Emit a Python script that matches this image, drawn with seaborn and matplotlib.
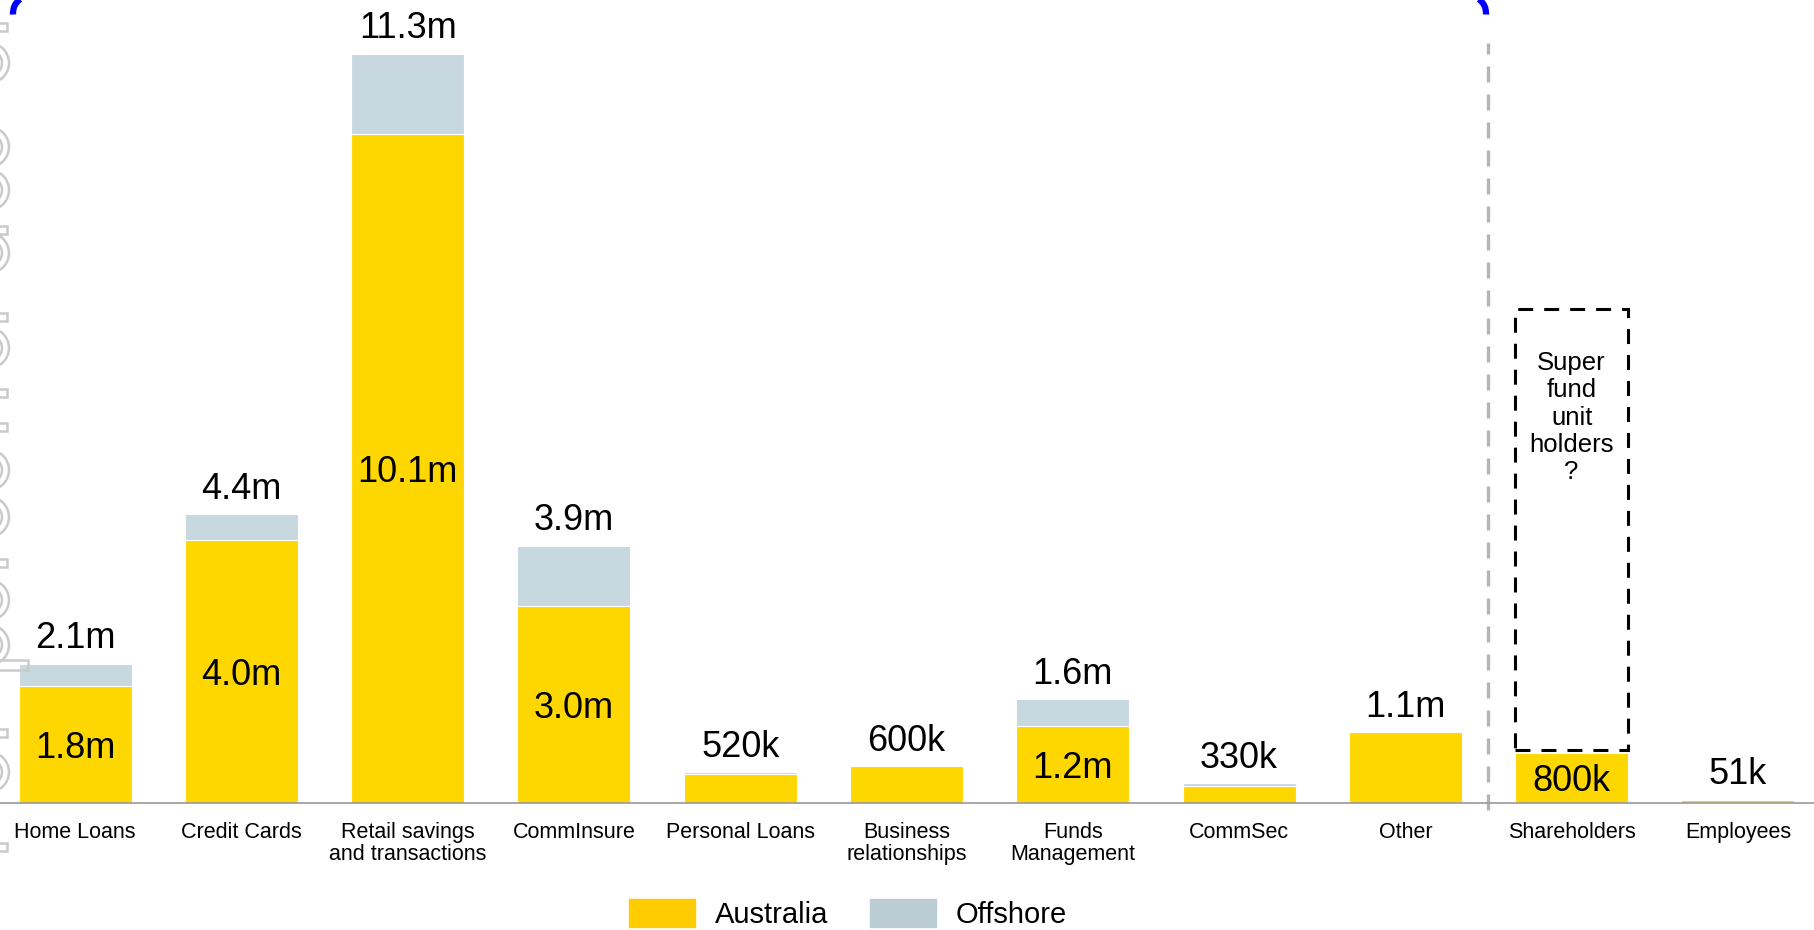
import matplotlib
matplotlib.use("Agg")
import matplotlib.pyplot as plt
import matplotlib.patches as mpatches
import seaborn as sns
import pandas as pd

# customer numbers (millions)
categories = ["Home Loans", "Credit Cards", "Retail savings\nand transactions", "CommInsure",
              "Personal Loans", "Business\nrelationships", "Funds\nManagement", "CommSec",
              "Other", "Shareholders", "Employees"]
australia = [1.76, 3.97, 10.09, 2.97, 0.43, 0.56, 1.16, 0.26, 1.07, 0.76, 0.05]
offshore = [0.34, 0.39, 1.21, 0.91, 0.04, 0.0, 0.41, 0.04, 0.0, 0.0, 0.0]
total_labels = ["2.1m", "4.4m", "11.3m", "3.9m", "520k", "600k", "1.6m", "330k", "1.1m", "", "51k"]
inner_labels = ["1.8m", "4.0m", "10.1m", "3.0m", "", "", "1.2m", "", "", "800k", ""]
legend_names = ["Australia", "Offshore"]

YELLOW = "#FFD700"
GREY = "#C8D8DF"
LEG_YELLOW = "#FFCC00"
LEG_GREY = "#BCCCD4"

df = pd.DataFrame({"category": categories, "australia": australia, "offshore": offshore})
df["total"] = df["australia"] + df["offshore"]

sns.set_style("white")
plt.rcParams["font.family"] = ["Liberation Sans", "DejaVu Sans"]
plt.rcParams["text.color"] = "black"
plt.rcParams["xtick.labelcolor"] = "black"

W, H = 1814, 930
fig = plt.figure(figsize=(W / 100, H / 100), dpi=100)
ax = fig.add_axes([-8 / W, 1 - 803 / H, 1829 / W, 803 / H])

# stacked bars: full total in grey, Australian share over it
sns.barplot(data=df, x="category", y="total", color=GREY, width=0.68, saturation=1,
            edgecolor="white", linewidth=0.8, ax=ax)
sns.barplot(data=df, x="category", y="australia", color=YELLOW, width=0.68, saturation=1,
            edgecolor="white", linewidth=0.8, ax=ax)

ax.set_xlim(-0.5, len(categories) - 0.5)
ax.set_ylim(0, 12.11)
ax.set_xlabel("")
ax.set_ylabel("")
ax.set_yticks([])
for s in ["top", "left", "right"]:
    ax.spines[s].set_visible(False)
ax.spines["bottom"].set_color("#9a9a9a")
ax.spines["bottom"].set_linewidth(1.2)

ax.set_xticks(range(len(categories)))
ax.set_xticklabels(categories, fontsize=15.5, color="black")
ax.set_xticks([i + 0.5 for i in range(len(categories) - 1)], minor=True)
ax.tick_params(axis="x", which="major", length=0, pad=13.5)
ax.tick_params(axis="x", which="minor", length=5, width=1, color="#9a9a9a", direction="out")
for lbl in ax.get_xticklabels():
    lbl.set_linespacing(1.1)

for i, row in df.iterrows():
    if total_labels[i]:
        ax.annotate(total_labels[i], (i, row["total"]), xytext=(0, 11), textcoords="offset points",
                    ha="center", va="baseline", fontsize=26)
    if inner_labels[i]:
        ax.text(i, row["australia"] / 2, inner_labels[i], ha="center", va="center_baseline",
                fontsize=26)

# divider between customers and other stakeholders
ax.plot([8.5, 8.5], [-0.1, 11.46], color="#b4b4b4", lw=2.4, linestyle=(0, (4.8, 3.6)),
        clip_on=False)

# placeholder box for super fund unit holders
ax.add_patch(mpatches.Rectangle((9 - 0.34, 0.80), 0.68, 7.45 - 0.80, fill=False,
                                edgecolor="black", lw=2.2, linestyle=(0, (4.9, 3.6))))
ax.text(9, 6.82, "Super\nfund\nunit\nholders\n?", ha="center", va="top", fontsize=18.5,
        linespacing=1.18)

handles = [mpatches.Patch(color=LEG_YELLOW, label=legend_names[0]),
           mpatches.Patch(color=LEG_GREY, label=legend_names[1])]
fig.legend(handles=handles, loc="center", bbox_to_anchor=(848 / W, 1 - 914 / H), ncol=2,
           frameon=False, fontsize=21, handlelength=2.24, handleheight=1.07,
           handletextpad=0.68, columnspacing=1.45, borderpad=0)

# blue bracket corners cut by the top edge
for cx, t1, t2 in [(30, 110, 190), (1469, -10, 70)]:
    fig.add_artist(mpatches.Arc((cx / W, 1 - 13 / H), 34 / W, 34 / H, theta1=t1, theta2=t2,
                                transform=fig.transFigure, color="blue", lw=4.5,
                                capstyle="butt"))

# faint grey glyph remnants along the left edge
for y in [63, 147, 190, 253, 348, 470, 517, 600, 645, 772]:
    for r in [20, 13]:
        fig.add_artist(mpatches.Ellipse((-11 / W, 1 - y / H), 2 * r / W, 2 * r / H,
                                        transform=fig.transFigure, fill=False,
                                        edgecolor="#cacaca", lw=1.8))
for y in [27, 230, 317, 393, 427, 563, 733, 847]:
    fig.add_artist(mpatches.Rectangle((-2 / W, 1 - (y + 4) / H), 9 / W, 8 / H,
                                      transform=fig.transFigure, fill=False,
                                      edgecolor="#cacaca", lw=1.8))
fig.add_artist(mpatches.Rectangle((-2 / W, 1 - 670 / H), 30 / W, 10 / H,
                                  transform=fig.transFigure, fill=False,
                                  edgecolor="#cacaca", lw=1.8))

fig.savefig("out.png", dpi=100)
